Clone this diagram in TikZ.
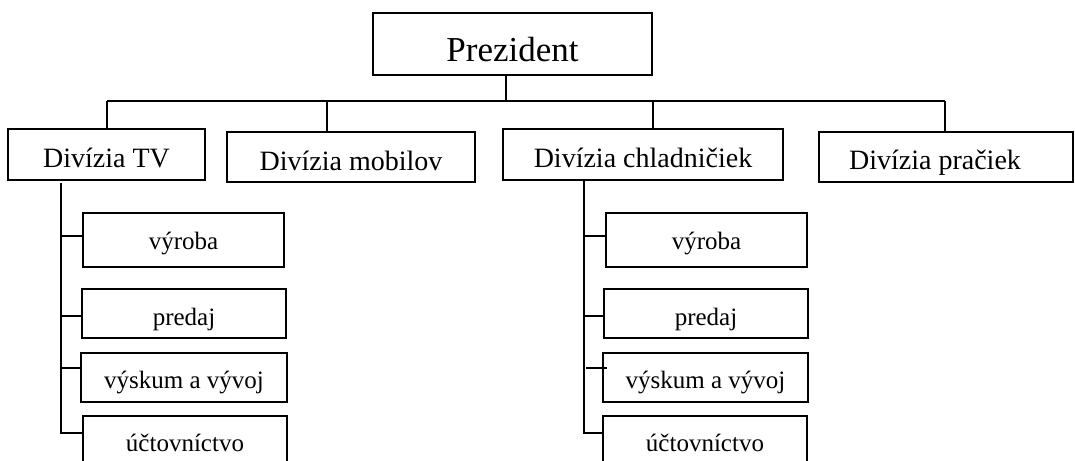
\documentclass[tikz,border=0pt]{standalone}
\usepackage{fontspec}
\setmainfont{Liberation Serif}
\begin{document}
\begin{tikzpicture}[x=1pt,y=-1pt,line width=1.9pt,
  box/.style={draw,rectangle,inner sep=0pt,align=center,text depth=0pt},
  topbox/.style={box,font=\fontsize{35}{40}\selectfont,text height=36pt},
  divbox/.style={box,font=\fontsize{28}{32}\selectfont,text height=26pt},
  subbox/.style={box,font=\fontsize{25}{30}\selectfont,text height=20pt}]
\useasboundingbox (0,0) rectangle (1075,460);
\clip (0,0) rectangle (1075,460);
% top
\node[topbox,minimum width=279pt,minimum height=62pt] (pres) at (512.5,44) {Prezident};
% divisions
\node[divbox,minimum width=197pt,minimum height=51pt] (tv) at (106.5,154.5) {Divízia TV};
\node[divbox,minimum width=248pt,minimum height=50pt] (mob) at (351,157) {Divízia mobilov};
\node[divbox,minimum width=280pt,minimum height=51pt] (chl) at (643,154.5) {Divízia chladničiek};
\node[divbox,minimum width=254pt,minimum height=50pt,text height=24pt] (pra) at (946,157) {Divízia pračiek\hspace*{22pt}};
% left subs
\node[subbox,minimum width=201pt,minimum height=54pt,text height=18pt] (vyrL) at (183.5,240) {výroba};
\node[subbox,minimum width=204pt,minimum height=49pt,text height=23pt] (preL) at (184,313.5) {predaj};
\node[subbox,minimum width=206pt,minimum height=49pt,text height=21pt] (vysL) at (184,377.5) {výskum a vývoj};
\node[subbox,minimum width=204pt,minimum height=50pt] (uctL) at (185,441) {účtovníctvo};
% right subs
\node[subbox,minimum width=201pt,minimum height=54pt,text height=18pt] (vyrR) at (706.5,240) {výroba};
\node[subbox,minimum width=204pt,minimum height=49pt,text height=23pt] (preR) at (706,313.5) {predaj};
\node[subbox,minimum width=205pt,minimum height=49pt,text height=21pt] (vysR) at (705.5,377.5) {výskum a vývoj};
\node[subbox,minimum width=204pt,minimum height=50pt] (uctR) at (705,441) {účtovníctvo};
% bus
\coordinate (busL) at (107,101);
\coordinate (busR) at (945,101);
\coordinate (dm) at (327,101);
\coordinate (dc) at (653,101);
\draw ([xshift=-6.5pt]pres.south) -- ([xshift=-6.5pt]pres.south |- busL);
\draw (busL) -- (busR);
\draw (busL) -- (busL |- tv.north);
\draw (dm) -- (dm |- mob.north);
\draw (dc) -- (dc |- chl.north);
\draw (busR) -- (busR |- pra.north);
% left spine
\coordinate (sL) at (61,183);
\draw ([yshift=4pt]vyrL.west) -| (sL);
\draw ([yshift=-2.5pt]preL.west) -| (sL);
\draw ([yshift=9.5pt]vysL.west) -| (sL);
\draw ([yshift=8pt]uctL.west) -| (sL);
% right spine
\coordinate (sR) at (584,180);
\draw ([yshift=4pt]vyrR.west) -| (sR);
\draw ([yshift=-2.5pt]preR.west) -| (sR);
\draw ([xshift=5pt,yshift=9.5pt]vysR.west) -- ([xshift=-16pt,yshift=9.5pt]vysR.west);
\draw ([yshift=8pt]uctR.west) -| (sR);
\end{tikzpicture}
\end{document}
